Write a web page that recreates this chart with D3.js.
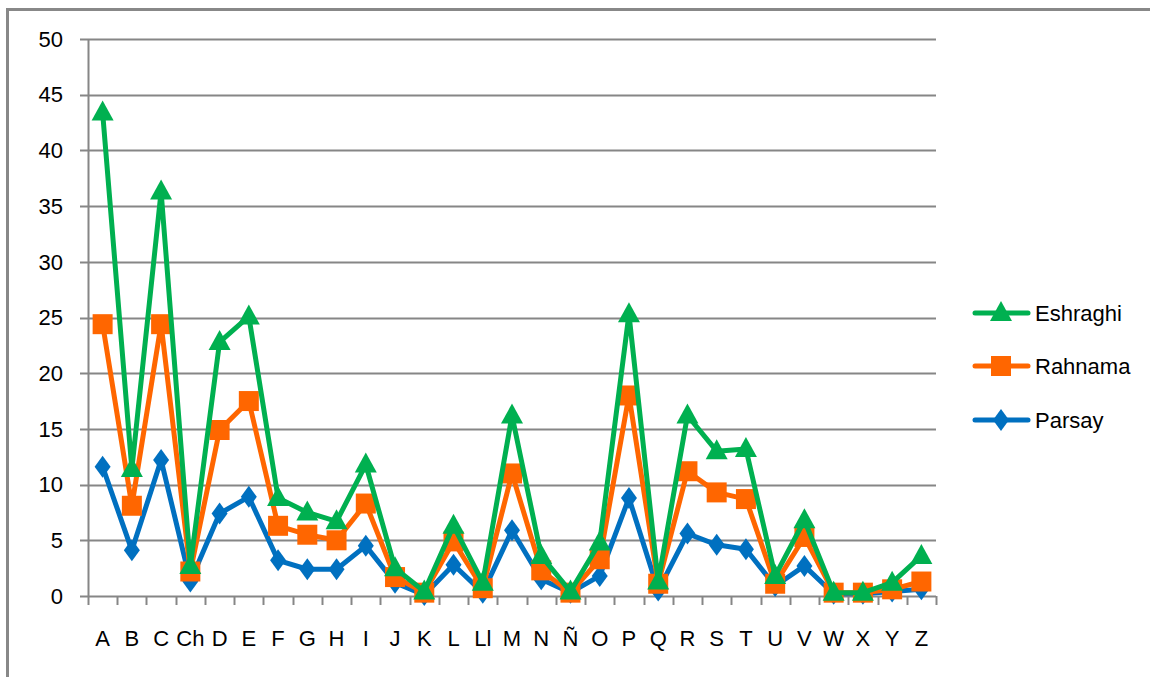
<!DOCTYPE html>
<html>
<head>
<meta charset="utf-8">
<script src="https://cdn.jsdelivr.net/npm/d3@7"></script>
<style>
  html, body { margin: 0; padding: 0; background: #fff; }
  svg { display: block; }
  text { font-family: "Liberation Sans", Arial, sans-serif; fill: #000; }
</style>
</head>
<body>
<script>
// Letters of the alphabet (Spanish ordering)
const categories = ["A","B","C","Ch","D","E","F","G","H","I","J","K","L","Ll","M","N","Ñ","O","P","Q","R","S","T","U","V","W","X","Y","Z"];

// Series values per letter
const eshraghi = [43.4,11.4,36.3,2.7,22.8,25.1,8.8,7.5,6.7,11.8,2.5,0.4,6.3,1.2,16.2,3.6,0.4,4.8,25.3,1.3,16.2,13.0,13.2,1.8,6.8,0.3,0.3,1.2,3.6];
const rahnama  = [24.4,8.1,24.4,2.2,14.9,17.5,6.3,5.5,5.0,8.3,1.7,0.3,4.9,0.7,11.0,2.3,0.3,3.3,18.0,1.1,11.2,9.3,8.7,1.1,5.3,0.3,0.3,0.6,1.3];
const parsay   = [11.6,4.1,12.2,1.3,7.4,8.9,3.2,2.4,2.4,4.5,1.2,0.1,2.8,0.3,5.9,1.5,0.3,1.8,8.8,0.5,5.6,4.6,4.2,0.9,2.7,0.2,0.2,0.4,0.6];

const seriesNames = ["Parsay","Rahnama","Eshraghi"];
const yTicks = [0,5,10,15,20,25,30,35,40,45,50];

const W = 1150, H = 677;
const margin = {left: 88, right: 214, top: 39, bottom: 81};

const svg = d3.select("body").append("svg").attr("width", W).attr("height", H);

// outer frame
svg.append("rect").attr("x", 7.5).attr("y", 9.5).attr("width", W + 10).attr("height", H + 10)
  .attr("fill", "#fff").attr("stroke", "#888").attr("stroke-width", 3);

const x = d3.scaleBand().domain(categories).range([margin.left, W - margin.right]);
const y = d3.scaleLinear().domain([0, 50]).range([H - margin.bottom, margin.top]);

// horizontal gridlines
svg.append("g").selectAll("line").data(yTicks).join("line")
  .attr("x1", margin.left - 8).attr("x2", W - margin.right)
  .attr("y1", d => Math.round(y(d)) + 0.5).attr("y2", d => Math.round(y(d)) + 0.5)
  .attr("stroke", "#868686").attr("stroke-width", 2);

// y axis line
svg.append("line").attr("x1", margin.left + 0.5).attr("x2", margin.left + 0.5)
  .attr("y1", y(50)).attr("y2", y(0)).attr("stroke", "#868686").attr("stroke-width", 2);

// y tick labels
svg.append("g").selectAll("text").data(yTicks).join("text")
  .attr("x", 63).attr("y", d => y(d)).attr("dy", "0.35em")
  .attr("text-anchor", "end").attr("font-size", 22).text(d => d);

// x tick marks at band boundaries
const bounds = categories.map(c => x(c)).concat([W - margin.right]);
svg.append("g").selectAll("line").data(bounds).join("line")
  .attr("x1", d => Math.round(d) + 0.5).attr("x2", d => Math.round(d) + 0.5)
  .attr("y1", y(0)).attr("y2", y(0) + 9)
  .attr("stroke", "#868686").attr("stroke-width", 2);

// x labels
svg.append("g").selectAll("text").data(categories).join("text")
  .attr("x", d => x(d) + x.bandwidth() / 2).attr("y", 646)
  .attr("text-anchor", "middle").attr("font-size", 22).text(d => d);

const series = [
  {name: "Parsay", values: parsay, color: "#0070C0", shape: "diamond"},
  {name: "Rahnama", values: rahnama, color: "#FF6600", shape: "square"},
  {name: "Eshraghi", values: eshraghi, color: "#00B050", shape: "triangle"}
];

function markerPath(shape) {
  if (shape === "diamond") return "M0,-11L8,0L0,11L-8,0Z";
  if (shape === "square") return "M-10,-10H10V10H-10Z";
  return "M0,-12L11,8H-11Z";
}

const line = d3.line().x((d, i) => x(categories[i]) + x.bandwidth() / 2).y(d => y(d));

series.forEach(s => {
  const g = svg.append("g");
  g.append("path").datum(s.values).attr("d", line)
    .attr("fill", "none").attr("stroke", s.color).attr("stroke-width", 5)
    .attr("stroke-linejoin", "round");
  g.selectAll("path.m").data(s.values).join("path").attr("class", "m")
    .attr("transform", (d, i) => `translate(${x(categories[i]) + x.bandwidth() / 2},${y(d)})`)
    .attr("d", markerPath(s.shape)).attr("fill", s.color);
});

// legend
const legend = [
  {name: "Eshraghi", color: "#00B050", shape: "triangle", y: 313},
  {name: "Rahnama", color: "#FF6600", shape: "square", y: 366},
  {name: "Parsay", color: "#0070C0", shape: "diamond", y: 420}
];
const lg = svg.append("g").selectAll("g").data(legend).join("g")
  .attr("transform", d => `translate(0,${d.y})`);
lg.append("line").attr("x1", 975).attr("x2", 1028).attr("y1", 0).attr("y2", 0)
  .attr("stroke", d => d.color).attr("stroke-width", 5).attr("stroke-linecap", "round");
lg.append("path").attr("transform", "translate(1001,0)")
  .attr("d", d => markerPath(d.shape)).attr("fill", d => d.color);
lg.append("text").attr("x", 1035).attr("y", 0).attr("dy", "0.35em")
  .attr("font-size", 22).text(d => d.name);
</script>
</body>
</html>
